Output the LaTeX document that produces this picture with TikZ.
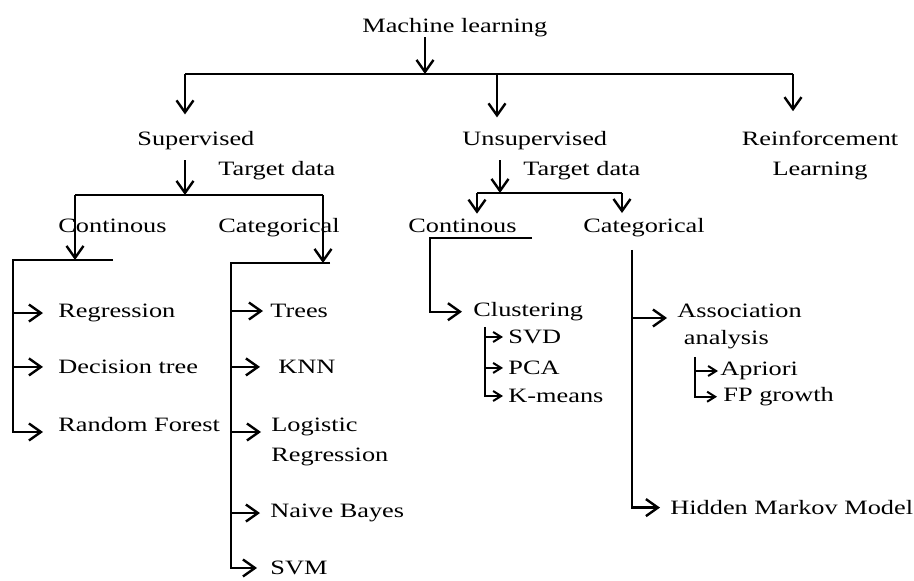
\documentclass[tikz,border=0pt]{standalone}
\usepackage{fontspec}
\setmainfont{Liberation Serif}[FakeStretch=1.29]
\usepackage{tikz}
\usetikzlibrary{arrows.meta}

\tikzset{
  lbl/.style={anchor=mid west, inner sep=0pt},
  bar/.style={line width=1.2pt},
  big/.style={bar, -{Straight Barb[length=6pt,width=8.5pt]}},
  small/.style={line width=1pt, -{Straight Barb[length=4pt,width=5pt]}},
}

\begin{document}
\begin{tikzpicture}[x=0.5pt, y=-0.5pt, font=\fontsize{10.2pt}{15pt}\selectfont]
\useasboundingbox (0,0) rectangle (914,581);
% top level
\node[lbl] (ml) at (362,28) {Machine learning};
\coordinate (t0) at (425,74);
\coordinate (t1) at (185,74);
\coordinate (t2) at (497,74);
\coordinate (t3) at (793,74);
\draw[big] (ml.south -| t0) -- (t0);
\draw[bar] (t1) -- (t3);
\node[lbl] (sup) at (137,141) {Supervised};
\node[lbl] (uns) at (462,141) {Unsupervised};
\node[anchor=center, align=center, inner sep=0pt] (rl) at (820,156) {Reinforcement\\Learning};
\draw[big, shorten >=8.3pt] (t1) -- (sup.north -| t1);
\draw[big, shorten >=6.8pt] (t2) -- (uns.north -| t2);
\draw[big, shorten >=10pt] (t3) -- (rl.north -| t3);

% supervised
\coordinate (s0) at (185,195);
\draw[big, shorten <=5pt] (sup.south -| s0) -- (s0);
\node[lbl] (std) at (218,171) {Target data};
\coordinate (s1) at (75,195);
\coordinate (s2) at (323,195);
\draw[bar] (s1) -- (s2);
\node[lbl] (scon) at (58,228) {Continous};
\node[lbl] (scat) at (218,228) {Categorical};
\coordinate (sa) at (13,260);
\coordinate (sb) at (113,260);
\coordinate (ca) at (231,263);
\coordinate (cb) at (330,263);
\draw[big] (s1) -- (s1 |- sa);
\draw[big] (s2) -- (s2 |- ca);

\node[lbl] (reg) at (58,313) {Regression};
\node[lbl] (dt) at (58,369) {Decision tree};
\node[anchor=base west, inner sep=0pt] (rf) at (58,432) {Random Forest};
\draw[big, shorten >=7.5pt] (sb) -- (sa) |- (rf.base west);
\draw[big, shorten >=7.5pt] (sa |- reg.west) -- (reg.west);
\draw[big, shorten >=7.5pt] (sa |- dt.west) -- (dt.west);

\node[lbl] (tr) at (270,313) {Trees};
\node[lbl] (knn) at (278,369) {KNN};
\node[anchor=base west, align=left, inner sep=0pt] (lr) at (271,462) {Logistic\\Regression};
\node[lbl] (nb) at (270,513) {Naive Bayes};
\node[lbl] (svm) at (270,570) {SVM};
\draw[big, shorten >=6.5pt] (cb) -- (ca) |- (svm.west);
\draw[big, shorten >=3.5pt] (ca |- tr.west) -- (tr.west);
\draw[big, shorten >=9pt] (ca |- knn.west) -- (knn.west);
\draw[big, shorten >=5pt] (ca |- lr.base west) ++(0,-30) -- ([yshift=15pt]lr.base west);
\draw[big, shorten >=5pt] (ca |- nb.west) -- (nb.west);

% unsupervised
\coordinate (u0) at (500,193);
\draw[big, shorten <=5pt] (uns.south -| u0) -- (u0);
\node[lbl] (utd) at (523,171) {Target data};
\coordinate (u1) at (477,193);
\coordinate (u2) at (622,193);
\draw[bar] (u1) -- (u2);
\node[lbl] (ucon) at (408,228) {Continous};
\node[lbl] (ucat) at (583,228) {Categorical};
\draw[big, shorten >=2.5pt] (u1) -- (ucon.north -| u1);
\draw[big, shorten >=2.5pt] (u2) -- (ucat.north -| u2);

\coordinate (ua) at (430,238);
\coordinate (ub) at (532,238);
\node[lbl] (clu) at (473,312) {Clustering};
\draw[big, shorten >=5.5pt] (ub) -- (ua) |- (clu.west);
\coordinate (cl0) at (485,327);
\node[lbl] (svd) at (508,339) {SVD};
\node[lbl] (pca) at (508,370) {PCA};
\node[lbl] (km) at (508,398) {K-means};
\draw[small, shorten >=2.5pt] (cl0) |- (km.west);
\draw[small, shorten >=2.5pt] (cl0 |- svd.west) -- (svd.west);
\draw[small, shorten >=2.5pt] (cl0 |- pca.west) -- (pca.west);

\coordinate (uc0) at (632,250);
\node[anchor=base west, align=left, inner sep=0pt, font=\fontsize{10.2pt}{13.5pt}\selectfont] (asc) at (677,345) {Association\\\ analysis};
\node[lbl] (hmm) at (670,510) {Hidden Markov Model};
\draw[big, shorten >=5pt] (uc0) |- (hmm.west);
\draw[big, shorten >=5pt] (uc0 |- asc.base west) ++(0,-27) -- ([yshift=13.5pt]asc.base west);
\coordinate (as0) at (695,357);
\node[lbl] (apr) at (720,371) {Apriori};
\node[lbl] (fp) at (723,397) {FP growth};
\draw[small, shorten >=3pt] (as0) |- (fp.west);
\draw[small, shorten >=1pt] (as0 |- apr.west) -- (apr.west);
\end{tikzpicture}
\end{document}
